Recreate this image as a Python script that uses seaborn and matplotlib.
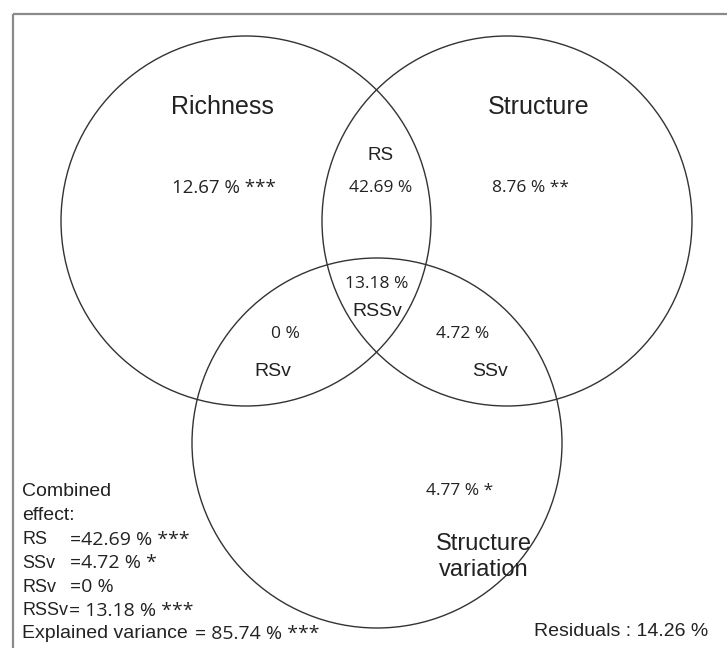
import matplotlib.pyplot as plt
import matplotlib.patches as mpatches
import seaborn as sns

# Venn sets: name, centre (px), radius (px)
set_names = ['Richness', 'Structure', 'Structure\nvariation']
set_centres = [(246, 221), (507, 221), (377, 443)]
set_radius = [185, 185, 185]

# region labels and values (variance partitioning)
regions = ['R', 'S', 'Sv', 'RS', 'RSv', 'SSv', 'RSSv']
values = [12.67, 8.76, 4.77, 42.69, 0, 4.72, 13.18]
signif = ['***', '**', '*', '', '', '', '']

combined_keys = ['RS', 'SSv', 'RSv', 'RSSv']
combined_vals = [42.69, 4.72, 0, 13.18]
combined_sig = ['***', '*', '', '***']
explained = 85.74
explained_sig = '***'
residuals = 14.26

sns.set_theme(style='white')
plt.rcParams['font.family'] = ['Liberation Sans', 'DejaVu Sans']
num_font = ['Open Sans', 'DejaVu Sans']
ink = '#222222'


def pct(v):
    return f'{v:g} %'


fig = plt.figure(figsize=(7.27, 6.48), dpi=100)
ax = fig.add_axes([0, 0, 1, 1])
ax.set_xlim(0, 727)
ax.set_ylim(648, 0)
ax.set_aspect('equal')
ax.axis('off')

# outer frame (right/bottom edges run off the picture)
ax.add_patch(mpatches.Rectangle((13, 14), 740, 660, fill=False,
                                edgecolor='#8a8a8a', linewidth=1.6))

for (cx, cy), r in zip(set_centres, set_radius):
    ax.add_patch(mpatches.Circle((cx, cy), r, fill=False,
                                 edgecolor='#333333', linewidth=1.0))

# set titles
ax.text(222, 107, set_names[0], fontsize=18, ha='center', va='center', color=ink)
ax.text(539, 107, set_names[1], fontsize=18, ha='center', va='center', color=ink)
ax.text(484, 557, set_names[2], fontsize=17, ha='center', va='center',
        color=ink, linespacing=1.2)

val = dict(zip(regions, values))
sig = dict(zip(regions, signif))

# unique fractions
ax.text(224, 188, pct(val['R']) + ' ' + sig['R'], fontsize=13.5, family=num_font,
        ha='center', va='center', color=ink)
ax.text(530, 188, pct(val['S']) + ' ' + sig['S'], fontsize=12.5, family=num_font,
        ha='center', va='center', color=ink)
ax.text(460, 491, pct(val['Sv']) + ' ' + sig['Sv'], fontsize=12.5, family=num_font,
        ha='center', va='center', color=ink)

# shared fractions
ax.text(381, 155, 'RS', fontsize=13.5, ha='center', va='center', color=ink)
ax.text(381, 188, pct(val['RS']), fontsize=12.5, family=num_font,
        ha='center', va='center', color=ink)
ax.text(377, 284, pct(val['RSSv']), fontsize=12.5, family=num_font,
        ha='center', va='center', color=ink)
ax.text(377, 311, 'RSSv', fontsize=14, ha='center', va='center', color=ink)
ax.text(285, 334, pct(val['RSv']), fontsize=12.5, family=num_font,
        ha='center', va='center', color=ink)
ax.text(273, 371, 'RSv', fontsize=14, ha='center', va='center', color=ink)
ax.text(463, 334, pct(val['SSv']), fontsize=12.5, family=num_font,
        ha='center', va='center', color=ink)
ax.text(490, 371, 'SSv', fontsize=14, ha='center', va='center', color=ink)

# combined effect block
ax.text(22, 492, 'Combined', fontsize=14, ha='left', va='center', color=ink)
ax.text(22, 515, 'effect:', fontsize=14, ha='left', va='center', color=ink)
line_y = 540
for k, v, s in zip(combined_keys, combined_vals, combined_sig):
    ax.text(22, line_y, k, fontsize=13, ha='left', va='center', color=ink)
    x_eq = 69 if len(k) > 3 else 70
    ax.text(x_eq, line_y, ('= ' if len(k) > 3 else '=') + pct(v) + (' ' + s if s else ''),
            fontsize=14, family=num_font, ha='left', va='center', color=ink)
    line_y += 23.5
ax.text(22, line_y, 'Explained variance', fontsize=14, ha='left', va='center', color=ink)
ax.text(195, line_y, '= ' + pct(explained) + ' ' + explained_sig, fontsize=14,
        family=num_font, ha='left', va='center', color=ink)

ax.text(708, 632, f'Residuals : {residuals:g} %', fontsize=14,
        ha='right', va='center', color=ink)

fig.savefig('out.png', dpi=100)
